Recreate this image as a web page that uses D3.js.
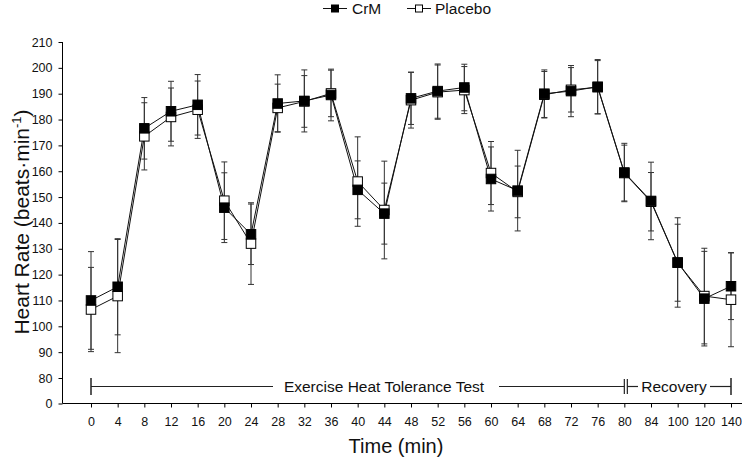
<!DOCTYPE html>
<html><head><meta charset="utf-8">
<script src="https://cdn.jsdelivr.net/npm/d3@7"></script>
<style>
html,body{margin:0;padding:0;background:#fff;}
svg{display:block;font-family:"Liberation Sans",Arial,sans-serif;}
</style></head>
<body>
<svg id="chart" width="742" height="463"></svg>
<script>
const timeLabels = ["0","4","8","12","16","20","24","28","32","36","40","44","48","52","56","60","64","68","72","76","80","84","100","120","140"];
const crmMean     = [110,115.3,176.6,183.2,185.7,145.9,135.6,186.2,187.2,189.5,152.8,143.6,188.2,191.0,192.4,157.0,152.5,190.0,191.0,192.7,159.5,148.5,124.7,110.7,115.5];
const crmSD       = [18.9,18.6,11.9,11.6,11.7,13.5,11.7,11.1,12.0,10.0,11.2,11.8,10.1,10.5,9.0,12.4,15.6,9.2,9.9,10.5,11.3,15.0,17.3,18.3,12.9];
const placeboMean = [106.5,111.7,173.5,181.0,183.8,148.6,132.0,184.5,187.0,190.1,156.0,145.0,187.5,190.6,191.4,159.3,152.0,189.6,191.5,192.5,159.3,148.2,124.6,111.7,110.3];
const placeboSD   = [16.3,21.9,13.0,11.2,11.1,15.0,15.8,9.2,10.0,9.0,17.3,18.9,10.8,10.5,9.1,12.2,10.0,9.0,8.6,10.3,10.8,11.3,14.9,18.5,18.2];
const yTicks = [0,80,90,100,110,120,130,140,150,160,170,180,190,200,210];
const seriesNames = ["CrM","Placebo"];

const svg = d3.select("#chart");
const x = d3.scalePoint().domain(timeLabels).range([91, 731]);
const y = d3.scaleLinear().domain([0, 80, 210]).range([403.5, 378, 42]);

// axes
const yAxis = d3.axisLeft(y).tickValues(yTicks).tickSize(4).tickPadding(6);
const gy = svg.append("g").attr("transform","translate(62.5,0)").call(yAxis);
gy.select(".domain").attr("d","M0,42V403.5").attr("stroke","#000");
gy.selectAll("text").attr("font-size","12.5px").attr("fill","#111").attr("font-family","'Liberation Sans',Arial,sans-serif");

const xAxis = d3.axisBottom(x).tickSize(4).tickPadding(10);
const gx = svg.append("g").attr("transform","translate(0,403.5)").call(xAxis);
gx.select(".domain").attr("d","M62.5,0H742").attr("stroke","#000");
gx.selectAll("text").attr("font-size","12.5px").attr("fill","#111").attr("font-family","'Liberation Sans',Arial,sans-serif");

// titles
svg.append("text").attr("x",396).attr("y",453).attr("text-anchor","middle")
  .attr("font-size","20px").attr("fill","#111").text("Time (min)");
const yt = svg.append("text").attr("transform","translate(29,222) rotate(-90)")
  .attr("text-anchor","middle").attr("font-size","21px").attr("fill","#111");
yt.append("tspan").text("Heart Rate (beats\u00b7min");
yt.append("tspan").attr("font-size","13px").attr("dy","-8").text("-1");
yt.append("tspan").attr("dy","8").text(")");

// annotation bracket
const ay = 386.5;
const ann = svg.append("g").attr("stroke","#222").attr("stroke-width",1.2).attr("fill","none");
const x0 = x("0"), x80 = x("80"), x140 = x("140");
ann.append("line").attr("x1",x0).attr("x2",x0).attr("y1",378).attr("y2",395).attr("stroke-width",1.5);
ann.append("line").attr("x1",x0).attr("x2",273).attr("y1",ay).attr("y2",ay);
ann.append("line").attr("x1",499).attr("x2",x80).attr("y1",ay).attr("y2",ay);
ann.append("line").attr("x1",x80).attr("x2",x80).attr("y1",379).attr("y2",394);
ann.append("line").attr("x1",x80+3).attr("x2",x80+3).attr("y1",379).attr("y2",394);
ann.append("line").attr("x1",x80+3).attr("x2",638).attr("y1",ay).attr("y2",ay);
ann.append("line").attr("x1",710).attr("x2",x140).attr("y1",ay).attr("y2",ay);
ann.append("line").attr("x1",x140).attr("x2",x140).attr("y1",378).attr("y2",395).attr("stroke-width",1.5);
svg.append("text").attr("x",384).attr("y",392).attr("text-anchor","middle")
  .attr("font-size","15.5px").attr("fill","#111").text("Exercise Heat Tolerance Test");
svg.append("text").attr("x",674).attr("y",392).attr("text-anchor","middle")
  .attr("font-size","15.5px").attr("fill","#111").text("Recovery");

// data
const series = [
  {name: seriesNames[1], mean: placeboMean, sd: placeboSD, fill: "#fff"},
  {name: seriesNames[0], mean: crmMean, sd: crmSD, fill: "#000"}
];
const cap = 3, ms = 9.5;

// error bars
series.forEach(s => {
  const g = svg.append("g").attr("stroke","#333").attr("stroke-width",1);
  timeLabels.forEach((t,i) => {
    const cx = x(t), hi = y(s.mean[i] + s.sd[i]), lo = y(s.mean[i] - s.sd[i]);
    g.append("line").attr("x1",cx).attr("x2",cx).attr("y1",hi).attr("y2",lo);
    g.append("line").attr("x1",cx-cap).attr("x2",cx+cap).attr("y1",hi).attr("y2",hi);
    g.append("line").attr("x1",cx-cap).attr("x2",cx+cap).attr("y1",lo).attr("y2",lo);
  });
});

// lines
const line = d3.line().x((d,i)=>x(timeLabels[i])).y(d=>y(d));
series.forEach(s => {
  svg.append("path").datum(s.mean).attr("d",line).attr("fill","none")
    .attr("stroke","#111").attr("stroke-width",1);
});

// markers
series.forEach(s => {
  svg.append("g").selectAll("rect").data(s.mean).join("rect")
    .attr("x",(d,i)=>x(timeLabels[i]) - ms/2).attr("y",d=>y(d) - ms/2)
    .attr("width",ms).attr("height",ms)
    .attr("fill",s.fill).attr("stroke","#000").attr("stroke-width",1);
});

// legend
const leg = [
  {name: seriesNames[0], fill: "#000", lx: 323, tx: 352},
  {name: seriesNames[1], fill: "#fff", lx: 407, tx: 435}
];
const ly = 8.5;
leg.forEach(l => {
  svg.append("line").attr("x1",l.lx).attr("x2",l.lx+24).attr("y1",ly).attr("y2",ly)
    .attr("stroke","#111").attr("stroke-width",1);
  svg.append("rect").attr("x",l.lx+12-3.5).attr("y",ly-3.5).attr("width",7).attr("height",7)
    .attr("fill",l.fill).attr("stroke","#000").attr("stroke-width",1);
  svg.append("text").attr("x",l.tx).attr("y",ly+5.5).attr("font-size","15.5px")
    .attr("fill","#111").text(l.name);
});
</script>
</body></html>
